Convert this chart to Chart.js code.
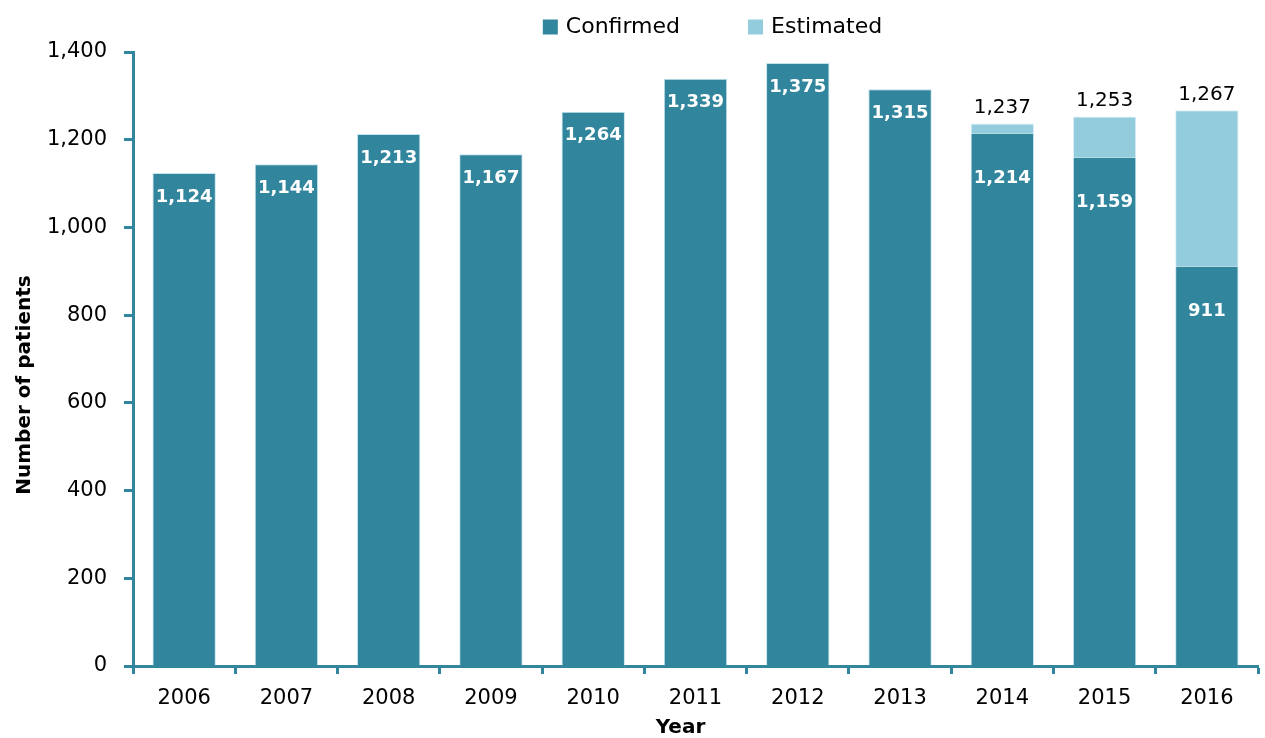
<!DOCTYPE html>
<html>
<head>
<meta charset="utf-8">
<script src="https://cdn.jsdelivr.net/npm/chart.js@4.4.0/dist/chart.umd.min.js"></script>
<style>
  html, body { margin: 0; padding: 0; background: #ffffff; }
  #wrap { width: 1265px; height: 738px; position: relative; }
</style>
</head>
<body>
<div id="wrap"><canvas id="chart"></canvas></div>
<script>
// Patients per year: confirmed counts and reported totals (confirmed + estimated)
const years = ['2006', '2007', '2008', '2009', '2010', '2011', '2012', '2013', '2014', '2015', '2016'];
const confirmed = [1124, 1144, 1213, 1167, 1264, 1339, 1375, 1315, 1214, 1159, 911];
const totals = [null, null, null, null, null, null, null, null, 1237, 1253, 1267];
const yTicks = [0, 200, 400, 600, 800, 1000, 1200, 1400];

// Estimated part is the gap between the reported total and the confirmed count
const estimated = totals.map((t, i) => (t === null ? null : t - confirmed[i]));

const TEAL = '#31859c';
const LIGHT = '#93cddd';
const FONT = "'DejaVu Sans', sans-serif";
const fmt = v => v.toLocaleString('en-US');

// Value labels: confirmed count inside each bar, total above stacked bars
const valueLabels = {
  id: 'valueLabels',
  afterDatasetsDraw(chart) {
    const ctx = chart.ctx;
    const conf = chart.getDatasetMeta(0).data;
    const est = chart.getDatasetMeta(1).data;
    ctx.save();
    ctx.textAlign = 'center';
    ctx.textBaseline = 'middle';
    conf.forEach((bar, i) => {
      const hasEst = totals[i] !== null;
      ctx.fillStyle = '#ffffff';
      ctx.font = 'bold 18px ' + FONT;
      ctx.fillText(fmt(confirmed[i]), bar.x, bar.y + (hasEst ? 45 : 24));
      if (hasEst) {
        ctx.fillStyle = '#000000';
        ctx.font = '20px ' + FONT;
        ctx.fillText(fmt(totals[i]), est[i].x, est[i].y - 16);
      }
    });
    ctx.restore();
  }
};

// Legend row above the plot and the two axis titles
const annotations = {
  id: 'annotations',
  afterDraw(chart) {
    const ctx = chart.ctx;
    const area = chart.chartArea;
    const items = chart.data.datasets.map(d => ({ text: d.label, color: d.backgroundColor }));
    ctx.save();
    ctx.font = '22px ' + FONT;
    ctx.textBaseline = 'middle';
    const box = 15, gapText = 8, gapItem = 68;
    const widths = items.map(it => box + gapText + ctx.measureText(it.text).width);
    const total = widths.reduce((a, b) => a + b, 0) + gapItem * (items.length - 1);
    let x = (area.left + area.right) / 2 + 17 - total / 2;
    const y = 27;
    items.forEach((it, i) => {
      ctx.fillStyle = it.color;
      ctx.fillRect(x, y - box / 2, box, box);
      ctx.fillStyle = '#000000';
      ctx.textAlign = 'left';
      ctx.fillText(it.text, x + box + gapText, y);
      x += widths[i] + gapItem;
    });

    ctx.font = 'bold 20px ' + FONT;
    ctx.fillStyle = '#000000';
    ctx.textAlign = 'center';
    ctx.fillText('Year', (area.left + area.right) / 2 - 15, 728);
    ctx.translate(25, (area.top + area.bottom) / 2 + 26);
    ctx.rotate(-Math.PI / 2);
    ctx.fillText('Number of patients', 0, 0);
    ctx.restore();
  }
};

new Chart(document.getElementById('chart'), {
  type: 'bar',
  data: {
    labels: years,
    datasets: [
      {
        label: 'Confirmed',
        data: confirmed,
        backgroundColor: TEAL,
        borderColor: 'rgba(190,225,235,0.9)',
        borderWidth: ctx => ({ left: 1, right: 1, bottom: 0, top: totals[ctx.dataIndex] === null ? 1 : 0 }),
        borderSkipped: false,
        categoryPercentage: 1,
        barPercentage: 0.62
      },
      {
        label: 'Estimated',
        data: estimated,
        backgroundColor: LIGHT,
        borderColor: 'rgba(220,240,246,0.9)',
        borderWidth: { left: 1, right: 1, top: 1, bottom: 0 },
        borderSkipped: false,
        categoryPercentage: 1,
        barPercentage: 0.62
      }
    ]
  },
  options: {
    responsive: true,
    maintainAspectRatio: false,
    animation: false,
    layout: { padding: { top: 52, right: 7, bottom: 0, left: 0 } },
    plugins: {
      legend: { display: false },
      tooltip: { enabled: false }
    },
    scales: {
      x: {
        stacked: true,
        offset: true,
        grid: {
          offset: true,
          drawOnChartArea: false,
          drawTicks: true,
          tickLength: 8,
          tickWidth: 3,
          tickColor: TEAL
        },
        border: { display: true, color: TEAL, width: 3 },
        ticks: {
          color: '#000000',
          padding: 12,
          font: { family: FONT, size: 21 },
          maxRotation: 0
        },
        afterFit(scale) { scale.height = 72; }
      },
      y: {
        stacked: true,
        min: 0,
        max: 1400,
        afterBuildTicks(scale) { scale.ticks = yTicks.map(v => ({ value: v })); },
        grid: {
          drawOnChartArea: false,
          drawTicks: true,
          tickLength: 9,
          tickWidth: 3,
          tickColor: TEAL
        },
        border: { display: true, color: TEAL, width: 3 },
        ticks: {
          color: '#000000',
          padding: 17,
          font: { family: FONT, size: 21 },
          callback: v => fmt(v)
        },
        afterFit(scale) { scale.width = 133; }
      }
    }
  },
  plugins: [valueLabels, annotations]
});
</script>
</body>
</html>
